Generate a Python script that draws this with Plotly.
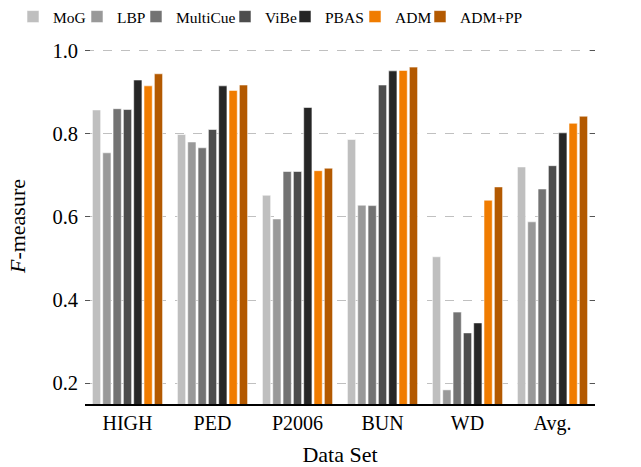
import plotly.graph_objects as go

categories = ["HIGH", "PED", "P2006", "BUN", "WD", "Avg."]
methods = ["MoG", "LBP", "MultiCue", "ViBe", "PBAS", "ADM", "ADM+PP"]
colors = ["#bfbfbf", "#999999", "#737373", "#4d4d4d", "#262626", "#f07c00", "#b35900"]

mog = [0.857, 0.798, 0.652, 0.786, 0.504, 0.720]
lbp = [0.754, 0.780, 0.595, 0.628, 0.184, 0.588]
multicue = [0.860, 0.766, 0.709, 0.627, 0.371, 0.667]
vibe = [0.858, 0.810, 0.709, 0.917, 0.321, 0.723]
pbas = [0.929, 0.915, 0.863, 0.951, 0.345, 0.802]
adm = [0.915, 0.904, 0.711, 0.952, 0.640, 0.825]
admpp = [0.944, 0.917, 0.717, 0.960, 0.672, 0.842]

series = [mog, lbp, multicue, vibe, pbas, adm, admpp]
yticks = [0.2, 0.4, 0.6, 0.8, 1.0]
ytick_text = ["0.2", "0.4", "0.6", "0.8", "1.0"]
y_title = "<i>F</i>-measure"
x_title = "Data Set"

FONT = "Liberation Serif"
W, H = 641, 467
# left edge of each legend entry (px), one legend per series
legend_x_px = [13, 77, 136, 225, 285, 355, 420]

fig = go.Figure()
legend_layout = {}
for i, (name, vals, col) in enumerate(zip(methods, series, colors)):
    lid = "legend" if i == 0 else f"legend{i+1}"
    fig.add_trace(go.Bar(
        x=categories, y=vals, name=name, legend=lid, showlegend=True,
        marker=dict(color=col, line=dict(color="rgba(255,255,255,0.7)", width=0.8)),
    ))
    legend_layout[lid] = dict(
        orientation="h", xref="container", yref="container",
        x=legend_x_px[i] / W, y=1.0, xanchor="left", yanchor="top",
        font=dict(family=FONT, size=15.5), itemwidth=30,
        bgcolor="rgba(0,0,0,0)", borderwidth=0,
    )

fig.update_layout(
    width=W, height=H, showlegend=True,
    margin=dict(l=85, r=46, t=38, b=63, autoexpand=False),
    paper_bgcolor="white", plot_bgcolor="white",
    barmode="group", bargap=0.15, bargroupgap=0.2,
    font=dict(family=FONT, color="black", size=20),
    xaxis=dict(
        showline=True, linecolor="black", linewidth=1.5,
        ticks="", tickfont=dict(size=20), showgrid=False,
        title=dict(text=x_title, font=dict(size=22), standoff=17),
    ),
    yaxis=dict(
        range=[0.15, 1.03], tickvals=yticks, ticktext=ytick_text,
        ticks="inside", ticklen=5, tickcolor="#555555", tickwidth=1,
        mirror="ticks", showline=False, zeroline=False,
        showgrid=True, gridcolor="#c0c0c0", griddash="dash", gridwidth=1,
        tickfont=dict(size=20.5), ticklabelstandoff=6,
    ),
    annotations=[dict(
        text=y_title, textangle=-90, showarrow=False,
        xref="paper", yref="paper", x=-0.131, y=0.484,
        xanchor="center", yanchor="middle", font=dict(size=22),
    )],
    **legend_layout,
)

fig.write_html("out.html", config={"displayModeBar": False},
               post_script="document.body.style.margin='0';")
